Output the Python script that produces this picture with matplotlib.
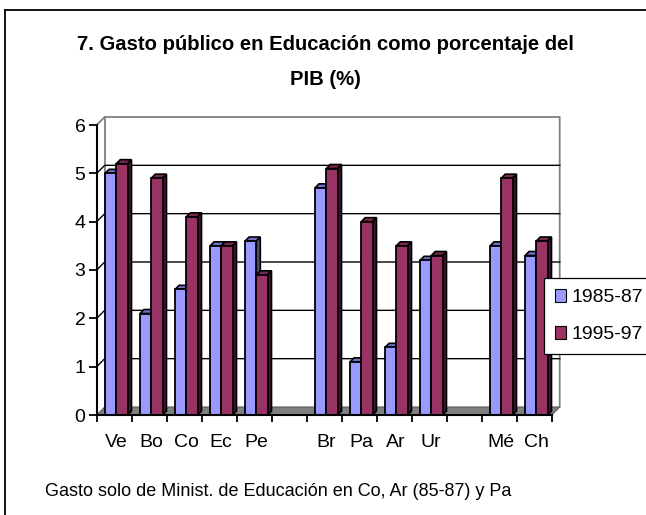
import matplotlib
matplotlib.use('Agg')
import matplotlib.pyplot as plt
from matplotlib.patches import Polygon, Patch
from matplotlib.lines import Line2D

categories = ['Ve', 'Bo', 'Co', 'Ec', 'Pe', '', 'Br', 'Pa', 'Ar', 'Ur', '', 'Mé', 'Ch']
s1985 = [5.0, 2.1, 2.6, 3.5, 3.6, None, 4.7, 1.1, 1.4, 3.2, None, 3.5, 3.3]
s1995 = [5.2, 4.9, 4.1, 3.5, 2.9, None, 5.1, 4.0, 3.5, 3.3, None, 4.9, 3.6]
series_labels = ['1985-87', '1995-97']
yticks = [0, 1, 2, 3, 4, 5, 6]
title1 = "7. Gasto público en Educación como porcentaje del"
title2 = "PIB (%)"
note = "Gasto solo de Minist. de Educación en Co, Ar (85-87) y Pa"

plt.rcParams['font.family'] = ['Liberation Sans', 'DejaVu Sans']

W, H = 646, 515
fig = plt.figure(figsize=(W / 100, H / 100), dpi=100)
fig.patch.set_facecolor('white')

# chart area border (left and top visible)
fig.add_artist(Line2D([5 / W, 5 / W], [0, 1 - 10 / H], transform=fig.transFigure, color='black', lw=1.3))
fig.add_artist(Line2D([5 / W, 1], [1 - 10 / H, 1 - 10 / H], transform=fig.transFigure, color='black', lw=1.3))

n = len(categories)
ymax = yticks[-1]
x0px, x1px, y0px, y1px = 96.7, 551.7, 415, 125
ax = fig.add_axes([x0px / W, (H - y0px) / H, (x1px - x0px) / W, (y0px - y1px) / H])
ax.set_xlim(0, n)
ax.set_ylim(0, ymax)
ax.patch.set_alpha(0)
for s in ['top', 'right']:
    ax.spines[s].set_visible(False)
ax.spines['left'].set_linewidth(1.5)
ax.spines['bottom'].set_linewidth(1.5)
ax.spines['left'].set_zorder(50)
ax.spines['bottom'].set_zorder(50)

pxx = (x1px - x0px) / n
pxy = (y0px - y1px) / ymax
dx, dy = 8 / pxx, 8 / pxy

# walls
gray = '#808080'
ax.plot([0, dx, n + dx, n + dx], [ymax, ymax + dy, ymax + dy, dy], color=gray, lw=1.3, clip_on=False, zorder=1)
ax.plot([dx, dx], [dy, ymax + dy], color=gray, lw=1.3, clip_on=False, zorder=1)
for k in yticks[1:-1]:
    ax.plot([0, dx, n + dx], [k, k + dy, k + dy], color='black', lw=1.0, clip_on=False, zorder=1)
# floor
ax.add_patch(Polygon([(0, 0), (n, 0), (n + dx, dy), (dx, dy)], closed=True, facecolor=gray,
                     edgecolor='#5a5a5a', lw=0.8, clip_on=False, zorder=2))

# bars
bw, off = 0.32, 0.24
bdx, bdy = 4 / pxx, 4 / pxy
cols = [('#9999FF', '#6f6fcc', '#4d4d80'), ('#993366', '#7a2952', '#401629')]
z = 3
for i in range(n):
    for j, ser in enumerate([s1985, s1995]):
        v = ser[i]
        if v is None:
            continue
        x = i + off + j * bw
        front, top, side = cols[j]
        ax.bar([x], [v], width=bw, align='edge', color=front, edgecolor='black', lw=1.3, zorder=z + 1)
        ax.add_patch(Polygon([(x, v), (x + bw, v), (x + bw + bdx, v + bdy), (x + bdx, v + bdy)],
                             closed=True, facecolor=top, edgecolor='black', lw=1.2, zorder=z, clip_on=False))
        ax.add_patch(Polygon([(x + bw, 0), (x + bw + bdx, bdy), (x + bw + bdx, v + bdy), (x + bw, v)],
                             closed=True, facecolor=side, edgecolor='black', lw=1.2, zorder=z, clip_on=False))
        z += 2

# ticks
ax.set_yticks(yticks)
ax.set_yticklabels([str(t) for t in yticks], fontsize=14)
ax.tick_params(axis='y', length=6, width=1.3, pad=2)
ax.set_xticks(range(n + 1))
ax.set_xticklabels([''] * (n + 1))
ax.tick_params(axis='x', which='major', length=5, width=1.3)
ax.set_xticks([i + 0.55 for i in range(n)], minor=True)
ax.set_xticklabels(categories, minor=True, fontsize=14)
ax.tick_params(axis='x', which='minor', length=0, pad=14)

# legend
handles = [Patch(facecolor=cols[0][0], edgecolor='black', lw=0.8),
           Patch(facecolor=cols[1][0], edgecolor='black', lw=0.8)]
leg = fig.legend(handles, series_labels, loc='upper left', bbox_to_anchor=(544 / W, 1 - 278 / H),
                 bbox_transform=fig.transFigure, frameon=True, fancybox=False, edgecolor='black',
                 framealpha=1, fontsize=14, handlelength=0.6, handleheight=0.7, handletextpad=0.25,
                 labelspacing=1.0, borderpad=0.55, borderaxespad=0)
leg.get_frame().set_linewidth(0.9)
leg.set_zorder(100)

# titles
fig.text(325 / W, 1 - 45 / H, title1, ha='center', va='center', fontsize=14.6, fontweight='bold')
fig.text(325 / W, 1 - 80 / H, title2, ha='center', va='center', fontsize=14.6, fontweight='bold')
fig.text(45 / W, 1 - 492 / H, note, ha='left', va='center', fontsize=13)

fig.savefig('out.png', dpi=100, facecolor='white')
